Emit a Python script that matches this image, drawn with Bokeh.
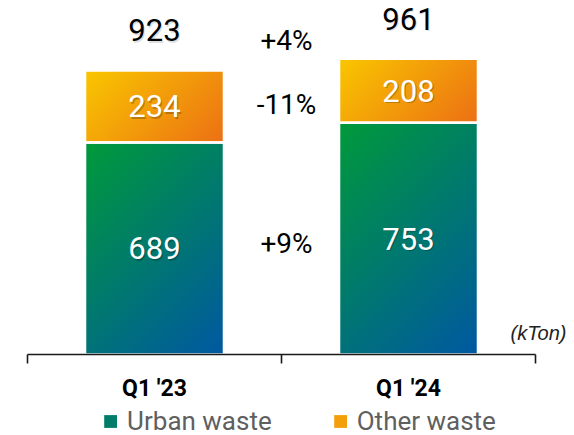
import numpy as np
from bokeh.plotting import figure
from bokeh.layouts import column
from bokeh.models import (Range1d, FixedTicker, LinearAxis, Legend, LegendItem,
                          ColumnDataSource)
from bokeh.core.properties import value
from bokeh.embed import file_html
from bokeh.resources import INLINE

# ---------------- data ----------------
categories = ["Q1 '23", "Q1 '24"]
urban_waste = [689, 753]
other_waste = [234, 208]
change_total = "+4%"
change_other = "-11%"
change_urban = "+9%"
series_names = ["Urban waste", "Other waste"]
unit_label = "(kTon)"

# ---------------- style ----------------
CAT_PX = 254            # pixels per category
FH = 354
Y_MAX = 1150
BAR_W = 0.547
EXTRA = 0.1417          # room on the right for the unit label
X_END = len(categories) + EXTRA
FW = int(round(CAT_PX * X_END))
NUM_FONT = "Roboto"
URB_C0, URB_C1 = (0, 154, 58), (0, 88, 162)
OTH_C0, OTH_C1 = (249, 199, 0), (236, 112, 20)

xc = np.arange(len(categories)) + 0.5
urb = np.array(urban_waste, float)
oth = np.array(other_waste, float)
tot = urb + oth

p = figure(frame_width=FW, frame_height=FH,
           x_range=Range1d(0, X_END), y_range=Range1d(0, Y_MAX),
           x_axis_type=None, y_axis_type=None,
           output_backend="svg", toolbar_location=None,
           min_border_left=27, min_border_right=3, min_border_top=0,
           min_border_bottom=0, outline_line_color=None,
           background_fill_color="white", border_fill_color="white")

src = ColumnDataSource(dict(x=xc, urb=urb, oth=oth, tot=tot,
                            urb_mid=urb / 2, oth_mid=urb + oth / 2,
                            urb_txt=[str(int(v)) for v in urb],
                            oth_txt=[str(int(v)) for v in oth],
                            tot_txt=[str(int(v)) for v in tot]))

def mid(c0, c1, f=0.5):
    return "#%02x%02x%02x" % tuple(int(a + (b - a) * f) for a, b in zip(c0, c1))

p.vbar(x="x", width=BAR_W, bottom=0, top="urb", source=src,
       fill_color=mid(URB_C0, URB_C1), line_color=None)
p.vbar(x="x", width=BAR_W, bottom="urb", top="tot", source=src,
       fill_color=mid(OTH_C0, OTH_C1), line_color=None)

# diagonal gradients drawn as images over the bar extents
px_x = CAT_PX
px_y = FH / Y_MAX

def gradient(c0, c1, wpx, hpx):
    nx, ny = max(int(round(wpx)), 2), max(int(round(hpx)), 2)
    u = (np.arange(nx) + 0.5) / nx
    vt = 1 - (np.arange(ny) + 0.5) / ny  # fraction from top, row 0 = bottom
    t = (u[None, :] * wpx + vt[:, None] * hpx) / (wpx + hpx)
    c0 = np.array(c0, float); c1 = np.array(c1, float)
    rgb = c0[None, None, :] + (c1 - c0)[None, None, :] * t[:, :, None]
    img = np.empty((ny, nx, 4), dtype=np.uint8)
    img[:, :, :3] = np.clip(np.round(rgb), 0, 255).astype(np.uint8)
    img[:, :, 3] = 255
    return img.view(np.uint32).reshape(ny, nx)

imgs, ix, iy, idw, idh = [], [], [], [], []
for i in range(len(categories)):
    for bottom, h, c0, c1 in ((0, urb[i], URB_C0, URB_C1), (urb[i], oth[i], OTH_C0, OTH_C1)):
        imgs.append(gradient(c0, c1, BAR_W * px_x, h * px_y))
        ix.append(xc[i] - BAR_W / 2); iy.append(bottom); idw.append(BAR_W); idh.append(h)
p.image_rgba(image=imgs, x=ix, y=iy, dw=idw, dh=idh)

# white separators
p.vbar(x="x", width=BAR_W, bottom=0, top="urb", source=src, fill_alpha=0,
       line_color="white", line_width=2.5)
p.vbar(x="x", width=BAR_W, bottom="urb", top="tot", source=src, fill_alpha=0,
       line_color="white", line_width=2.5)

# value labels (with a soft shadow)
def shadowed(shadow_alpha, **kw):
    base = dict(text_align="center", text_baseline="middle",
                text_font=value(NUM_FONT))
    base.update(kw)
    color = base.pop("text_color")
    yo = base.pop("y_offset", 0)
    p.text(text_color="black", text_alpha=shadow_alpha, x_offset=1.2,
           y_offset=yo + 1.2, **base)
    p.text(text_color=color, y_offset=yo, **base)

shadowed(0.22, x="x", y="urb_mid", text="urb_txt", source=src, text_color="white",
         text_font_size="31px")
shadowed(0.22, x="x", y="oth_mid", text="oth_txt", source=src, text_color="white",
         text_font_size="31px")
shadowed(0.12, x="x", y="tot", text="tot_txt", source=src, text_color="black",
         y_offset=-40, text_font_size="31px")

# change labels
xm = float(np.mean(xc))
pct = ColumnDataSource(dict(
    x=[xm, xm, xm],
    y=[float(np.mean(tot)), float(np.mean(urb + oth / 2)), float(np.mean(urb / 2))],
    t=[change_total, change_other, change_urban],
    dy=[-24, 6, 0]))
p.text(x="x", y="y", text="t", source=pct, x_offset=5, y_offset="dy",
       text_align="center", text_baseline="middle", text_color="black",
       text_font=value(NUM_FONT), text_font_size="28px")

# unit label (inside the frame, right of the last bar)
p.text(x=[X_END], y=[0], text=[unit_label], x_offset=-5, y_offset=-22,
       text_align="right", text_baseline="middle",
       text_font=value("Liberation Sans"), text_font_style="italic",
       text_font_size="20px", text_color="#222222")

# x axis with boundary ticks
ticker = FixedTicker(ticks=list(xc), minor_ticks=list(range(len(categories) + 1)))
xaxis = LinearAxis(ticker=ticker, bounds=(0, len(categories)),
                   major_label_overrides={float(x): c for x, c in zip(xc, categories)},
                   axis_line_color="#1a1a1a", axis_line_width=1.6,
                   major_tick_line_color=None, major_tick_out=8, major_tick_in=0,
                   minor_tick_line_color="#1a1a1a", minor_tick_line_width=1.6,
                   minor_tick_out=9, minor_tick_in=0,
                   major_label_standoff=11,
                   major_label_text_font="Roboto", major_label_text_font_style="bold",
                   major_label_text_font_size="23px", major_label_text_color="black")
p.add_layout(xaxis, "below")

# legend strip (its swatch renderers sit outside the strip's visible range)
lg = figure(width=574, height=33, x_range=Range1d(0, 1), y_range=Range1d(0, 1),
            x_axis_type=None, y_axis_type=None, output_backend="svg",
            toolbar_location=None, min_border=0, outline_line_color=None,
            background_fill_color="white", border_fill_color="white")
sw = ColumnDataSource(dict(x=[-5.0], top=[-5.0]))
lr_urb = lg.vbar(x="x", top="top", bottom=-6, width=0.1, source=sw,
                 fill_color=mid(URB_C0, URB_C1, 0.45), line_color=None)
lr_oth = lg.vbar(x="x", top="top", bottom=-6, width=0.1, source=sw,
                 fill_color=mid(OTH_C0, OTH_C1, 0.45), line_color=None)
legend = Legend(items=[LegendItem(label=series_names[0], renderers=[lr_urb]),
                       LegendItem(label=series_names[1], renderers=[lr_oth])],
                orientation="horizontal", location="center",
                glyph_width=16, glyph_height=16, label_standoff=9, spacing=60,
                padding=0, margin=0, border_line_color=None, background_fill_alpha=0,
                label_text_font="Roboto", label_text_font_size="26px",
                label_text_color="#5f5f5f")
lg.add_layout(legend)

open("out.html", "w").write(file_html(column(p, lg, spacing=0), INLINE))
